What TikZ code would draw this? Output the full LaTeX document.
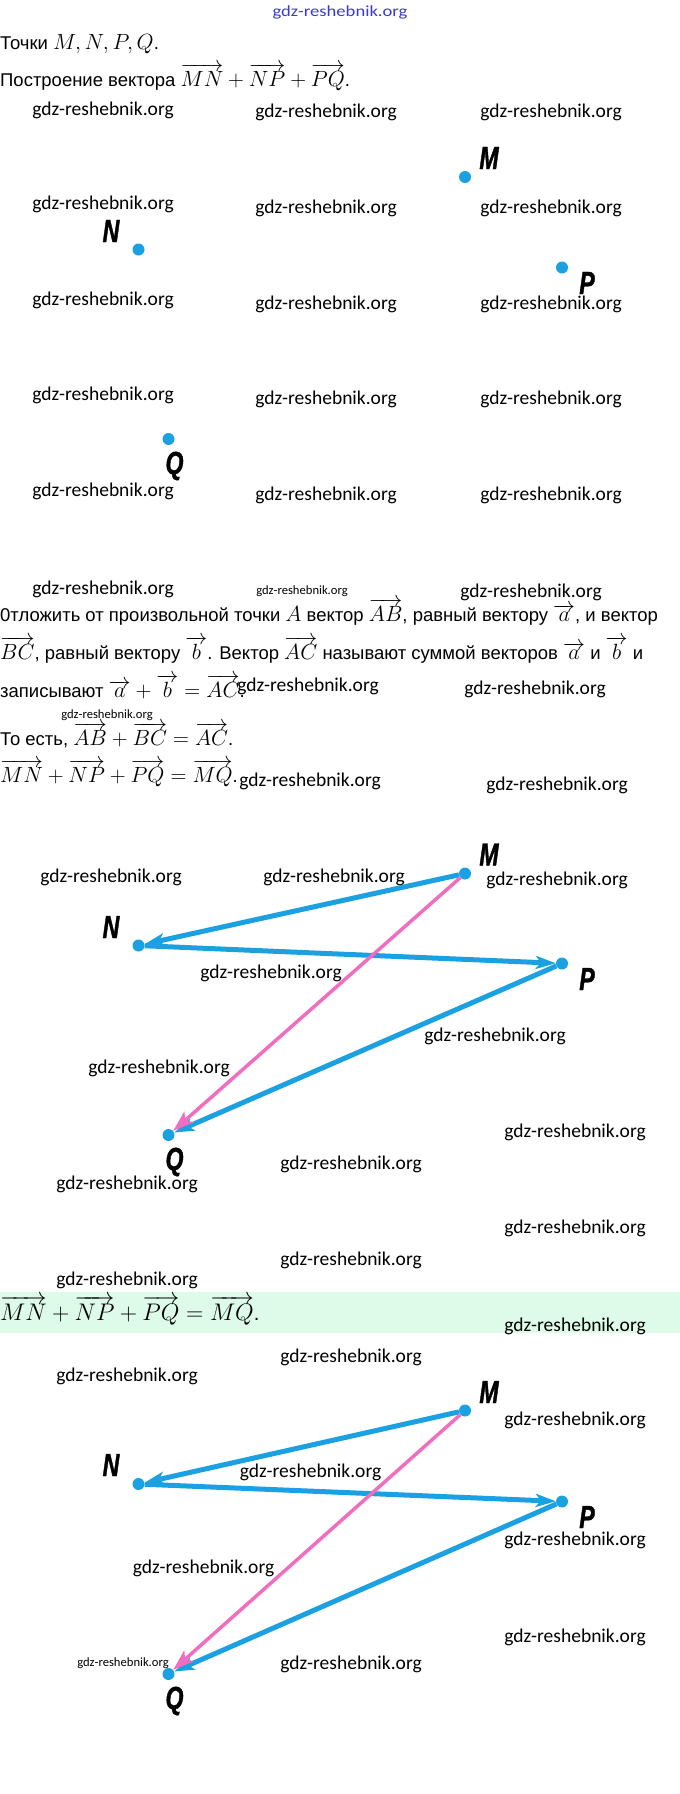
\RequirePackage{fix-cm}
\documentclass[tikz,border=0pt]{standalone}
\usepackage[no-math]{fontspec}
\setmainfont{Liberation Sans}[Scale=0.84]
\newfontfamily\wmfont{Carlito}
\newfontfamily\topwmfont{Carlito}[FakeStretch=1.2]
\newfontfamily\lblfont{Liberation Sans}[FakeStretch=0.72,FakeBold=1.2]
\usetikzlibrary{arrows.meta}
\definecolor{vblue}{HTML}{1BA1E2}
\definecolor{vpink}{HTML}{F06EC0}
\definecolor{bandgreen}{HTML}{DDFBE8}
\definecolor{wmblue}{HTML}{3A3ACF}
\newcommand\vv[1]{\overrightarrow{#1}}
\tikzset{
  wm/.style={inner sep=0pt, anchor=center, font=\wmfont\fontsize{19.5}{20}\selectfont},
  wms/.style={inner sep=0pt, anchor=center, font=\wmfont\fontsize{12.6}{13}\selectfont},
  txt/.style={inner sep=0pt, anchor=base west, font=\fontsize{22}{26}\selectfont},
  bandtxt/.style={inner sep=0pt, anchor=base west, font=\fontsize{24}{28}\selectfont},
  dot/.style={circle, fill=vblue, inner sep=0pt, minimum size=12pt},
  lbl/.style={inner sep=0pt, anchor=center, font=\lblfont\bfseries\itshape\fontsize{32}{32}\selectfont},
  bluearr/.style={draw=vblue, line width=5pt, -{Stealth[length=20pt,width=13pt,inset=5pt]}},
  pinkarr/.style={draw=vpink, line width=3.5pt, -{Stealth[length=21pt,width=14pt,inset=5pt]}}
}
\newcommand\wm[4][wm]{\node[#1] (#2) at (#3,#4) {gdz-reshebnik.org};}
\begin{document}
\begin{tikzpicture}[x=1pt,y=-1pt]
\fill[white] (0,0) rectangle (680,1794);
\path[use as bounding box] (0,0) rectangle (680,1794);
% top blue watermark
\node[inner sep=0pt, text=wmblue, font=\topwmfont\fontsize{15.5}{16}\selectfont] (topwm) at (340,12) {gdz-reshebnik.org};
% first text lines
\node[txt] (t1) at (0,49) {Точки $M, N, P, Q$.};
\node[txt] (t2) at (0,86) {Построение вектора $\vv{MN}+\vv{NP}+\vv{PQ}$.};
% watermark grid
\wm{a1}{103}{110}\wm{a2}{326}{112.5}\wm{a3}{551}{112.5}
\wm{b1}{103}{204}\wm{b2}{326}{208}\wm{b3}{551}{208}
\wm{c1}{103}{300}\wm{c2}{326}{304}\wm{c3}{551}{304}
\wm{d1}{103}{395}\wm{d2}{326}{399}\wm{d3}{551}{399}
\wm{e1}{103}{491}\wm{e2}{326}{495}\wm{e3}{551}{495}
% diagram 1
\node[dot] (M1) at (465,177) {};
\node[dot] (N1) at (138.5,249.5) {};
\node[dot] (P1) at (562,267.5) {};
\node[dot] (Q1) at (168.5,439) {};
\node[lbl] (lM1) at (489,158) {M};
\node[lbl] (lN1) at (111,231) {N};
\node[lbl] (lP1) at (587,283) {P};
\node[lbl] (lQ1) at (174.5,466) {Q};
% row 6
\wm{f1}{103}{589}\wm[wms]{f2}{302}{591}\wm{f3}{531}{592}
% text block
\node[txt] (t3) at (0,621) {0тложить от произвольной точки $A$ вектор $\vv{AB}$, равный вектору $\vv{a}$, и вектор};
\node[txt] (t4) at (0,659) {$\vv{BC}$, равный вектору $\vv{b}$. Вектор $\vv{AC}$ называют суммой векторов $\vv{a}$ и $\vv{b}$ и};
\node[txt] (t5) at (0,697) {записывают $\vv{a}+\vv{b}=\vv{AC}$.};
\wm{g1}{308}{686}\wm{g2}{535}{689}
\wm[wms]{g3}{107}{715}
\node[txt] (t6) at (0,745) {То есть, $\vv{AB}+\vv{BC}=\vv{AC}$.};
\node[txt] (t7) at (0,782) {$\vv{MN}+\vv{NP}+\vv{PQ}=\vv{MQ}$.};
\wm{h1}{310}{781}\wm{h2}{557}{785}
% diagram 2 watermarks
\wm{i1}{111}{877}\wm{i2}{334}{877}\wm{i3}{557}{880}
\wm{i4}{271}{973}\wm{i5}{495}{1036}\wm{i6}{159}{1068}
\wm{i7}{575}{1132}\wm{i8}{351}{1164}\wm{i9}{127}{1184}
% diagram 2
\node[dot] (M2) at (465,873.5) {};
\node[dot] (N2) at (138.5,945.5) {};
\node[dot] (P2) at (562,963.5) {};
\node[dot] (Q2) at (168.5,1135) {};
\node[lbl] (lM2) at (489,854.5) {M};
\node[lbl] (lN2) at (111,927) {N};
\node[lbl] (lP2) at (587,979) {P};
\node[lbl] (lQ2) at (174.5,1162) {Q};
\draw[bluearr] (M2) -- (N2);
\draw[bluearr] (N2) -- (P2);
\draw[bluearr] (P2) -- (Q2);
\draw[pinkarr] (M2) -- (Q2);
% between
\wm{j1}{575}{1228}\wm{j2}{351}{1260}\wm{j3}{127}{1280}
\fill[bandgreen] (0,1292) rectangle (680,1333);
\node[bandtxt] (t8) at (0,1320) {$\vv{MN}+\vv{NP}+\vv{PQ}=\vv{MQ}$.};
\wm{j4}{575}{1326}\wm{j5}{351}{1357}\wm{j6}{127}{1376}
% diagram 3 watermarks
\wm{k1}{575}{1420}\wm{k2}{310.5}{1472}\wm{k3}{575}{1540}
\wm{k4}{203.5}{1568}\wm{k5}{575}{1637}\wm{k6}{351}{1664}
\wm[wms]{k7}{123}{1663}
% diagram 3
\node[dot] (M3) at (465,1410.5) {};
\node[dot] (N3) at (138.5,1484) {};
\node[dot] (P3) at (562,1501.5) {};
\node[dot] (Q3) at (168.5,1674) {};
\node[lbl] (lM3) at (489,1392) {M};
\node[lbl] (lN3) at (111,1465) {N};
\node[lbl] (lP3) at (587,1517) {P};
\node[lbl] (lQ3) at (174.5,1701) {Q};
\draw[bluearr] (M3) -- (N3);
\draw[bluearr] (N3) -- (P3);
\draw[bluearr] (P3) -- (Q3);
\draw[pinkarr] (M3) -- (Q3);
\end{tikzpicture}
\end{document}
